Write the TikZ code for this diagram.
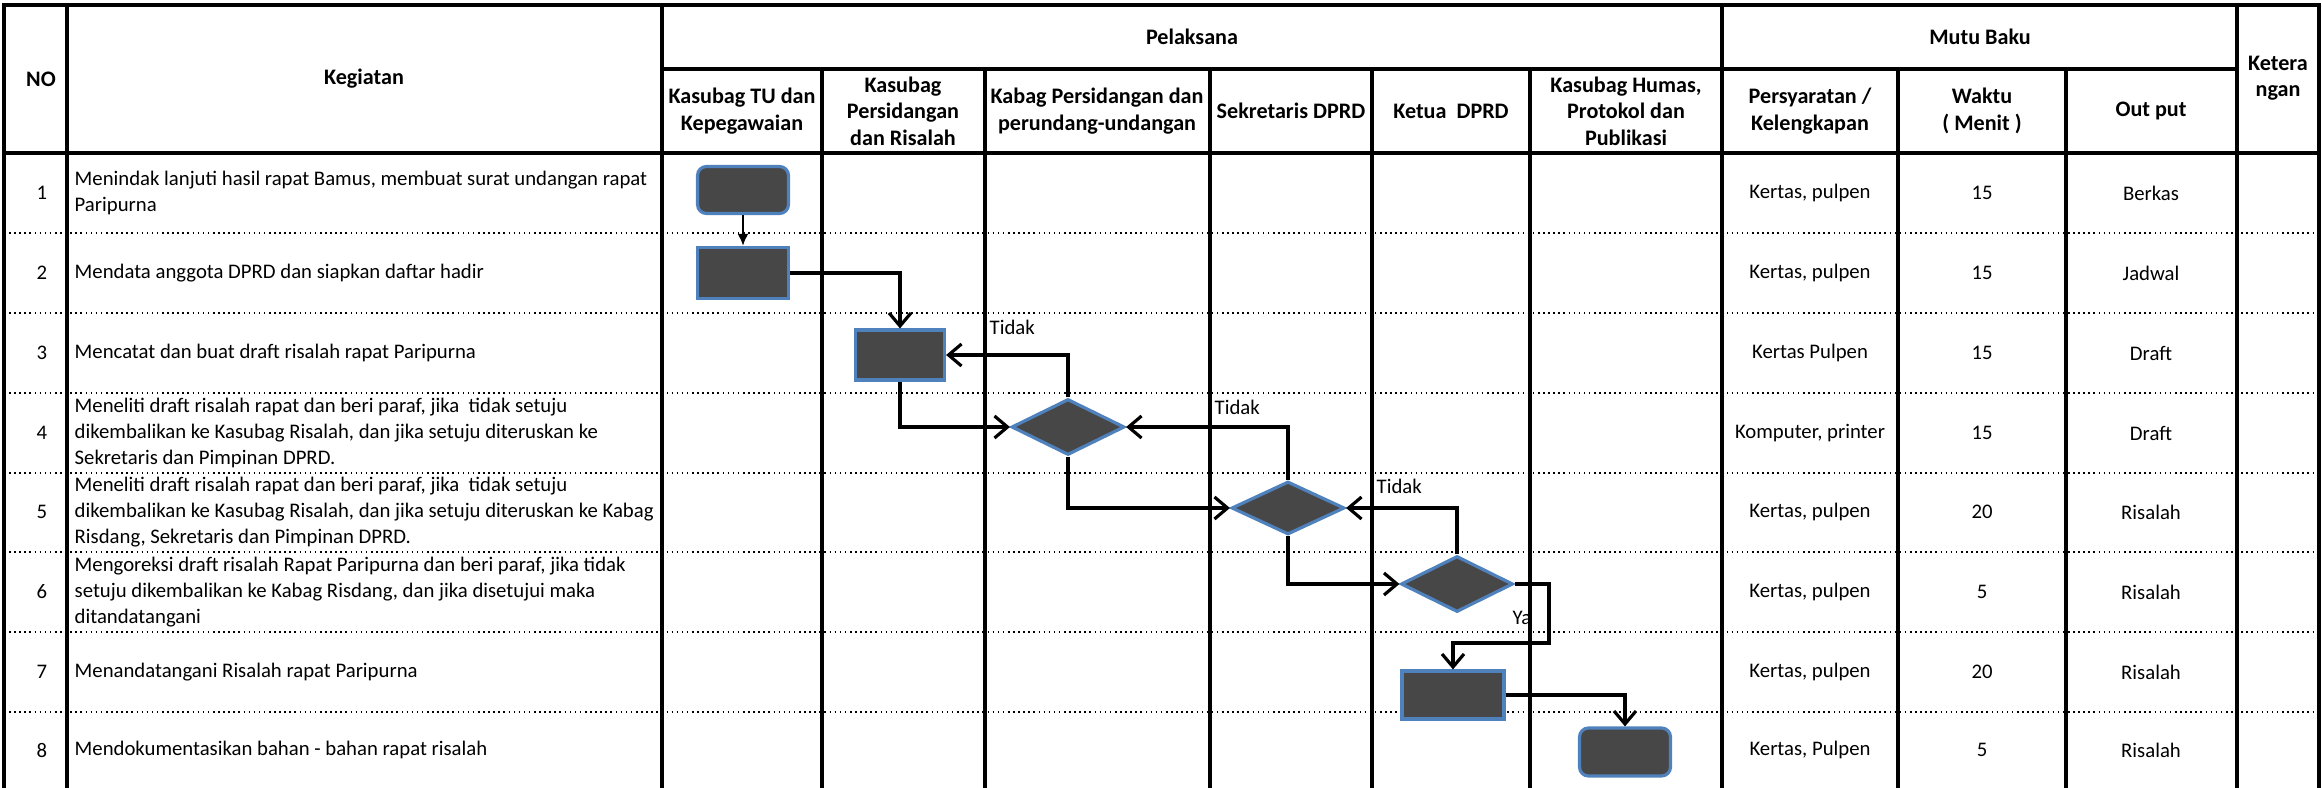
\documentclass[tikz,border=0pt]{standalone}
\usepackage{fontspec}
\setmainfont{Carlito}
\usetikzlibrary{shapes.geometric,arrows.meta}
\definecolor{stepblue}{HTML}{4F81BD}
\definecolor{stepgray}{HTML}{474747}

\begin{document}
\begin{tikzpicture} [x=0.1mm, y=-0.1mm, >={Straight Barb[length=1.3mm,width=2.2mm]},
	every node/.style={font=\fontsize{5.9}{7.4}\selectfont, inner sep=0pt},
	hdr/.style={font=\fontsize{6.3}{7.5}\selectfont\bfseries, align=center},
	rowtext/.style={anchor=west, align=left},
	tblline/.style={line width=1.3pt},
	lane/.style={line width=0.9pt},
	rowline/.style={densely dotted, line width=0.45pt},
	task/.style={draw=stepblue, fill=stepgray, line width=0.9pt, minimum width=9.1mm, minimum height=5.1mm},
	doc/.style={task, rounded corners=0.9mm, minimum height=4.7mm},
	cek/.style={diamond, draw=stepblue, fill=stepgray, line width=0.9pt, minimum width=11.3mm, minimum height=5.6mm},
	flow/.style={->, line width=0.9pt},
	lbl/.style={anchor=west}]
	\useasboundingbox (0,0) rectangle (2322,788);
	\draw [rowline] (4,233) -- (2319,233) (4,313) -- (2319,313) (4,393) -- (2319,393) (4,473) -- (2319,473);
	\draw [rowline] (4,552) -- (2319,552) (4,632) -- (2319,632) (4,712) -- (2319,712);
	\draw [tblline] (2,5) -- (2321,5) (662,69) -- (2237,69) (2,153) -- (2321,153);
	\draw [tblline] (4,5) -- (4,788) (67,5) -- (67,788) (662,5) -- (662,788);
	\draw [tblline] (1722,5) -- (1722,788) (2237,5) -- (2237,788) (2319,5) -- (2319,788);
	\draw [tblline] (1898,69) -- (1898,788) (2066,69) -- (2066,788);
	\draw [tblline] (822,69) -- (822,153) (985,69) -- (985,153) (1210,69) -- (1210,153) (1372,69) -- (1372,153) (1530,69) -- (1530,153);
	\draw [lane] (822,153) -- (822,788) (985,153) -- (985,788) (1210,153) -- (1210,788) (1372,153) -- (1372,788) (1530,153) -- (1530,788);
	\node (hno) [hdr] at (41,79) {NO};
	\node (hkeg) [hdr] at (364,79) {Kegiatan};
	\node (hpel) [hdr] at (1192,37) {Pelaksana};
	\node (hmutu) [hdr] at (1980,37) {Mutu Baku};
	\node (hket) [hdr] at (2278,78) {Ketera\\ngan};
	\node (htu) [hdr] at (742,111) {Kasubag TU dan\\Kepegawaian};
	\node (hsid) [hdr] at (903,111) {Kasubag\\Persidangan\\dan Risalah};
	\node (hkab) [hdr] at (1097,111) {Kabag Persidangan dan\\perundang-undangan};
	\node (hsek) [hdr] at (1291,111) {Sekretaris DPRD};
	\node (hktu) [hdr] at (1451,111) {Ketua~~DPRD};
	\node (hhum) [hdr] at (1626,111) {Kasubag Humas,\\Protokol dan\\Publikasi};
	\node (hsyr) [hdr] at (1810,111) {Persyaratan /\\Kelengkapan};
	\node (hwkt) [hdr] at (1982,111) {Waktu\\( Menit )};
	\node (hout) [hdr] at (2151,111) {Out put};
	\node (n1) at (42,193) {1};
	\node (n2) at (42,273) {2};
	\node (n3) at (42,353) {3};
	\node (n4) at (42,433) {4};
	\node (n5) at (42,512) {5};
	\node (n6) at (42,592) {6};
	\node (n7) at (42,672) {7};
	\node (n8) at (42,750) {8};
	\node (k1) [rowtext] at (74,193) {Menindak lanjuti hasil rapat Bamus, membuat surat undangan rapat\\Paripurna};
	\node (k2) [rowtext] at (74,273) {Mendata anggota DPRD dan siapkan daftar hadir};
	\node (k3) [rowtext] at (74,353) {Mencatat dan buat draft risalah rapat Paripurna};
	\node (k4) [rowtext] at (74,433) {Meneliti draft risalah rapat dan beri paraf, jika~~tidak setuju\\dikembalikan ke Kasubag Risalah, dan jika setuju diteruskan ke\\Sekretaris dan Pimpinan DPRD.};
	\node (k5) [rowtext] at (74,512) {Meneliti draft risalah rapat dan beri paraf, jika~~tidak setuju\\dikembalikan ke Kasubag Risalah, dan jika setuju diteruskan ke Kabag\\Risdang, Sekretaris dan Pimpinan DPRD.};
	\node (k6) [rowtext] at (74,592) {Mengoreksi draft risalah Rapat Paripurna dan beri paraf, jika tidak\\setuju dikembalikan ke Kabag Risdang, dan jika disetujui maka\\ditandatangani};
	\node (k7) [rowtext] at (74,672) {Menandatangani Risalah rapat Paripurna};
	\node (k8) [rowtext] at (74,750) {Mendokumentasikan bahan - bahan rapat risalah};
	\node (s1) at (1810,193) {Kertas, pulpen};
	\node (s2) at (1810,273) {Kertas, pulpen};
	\node (s3) at (1810,353) {Kertas Pulpen};
	\node (s4) at (1810,433) {Komputer, printer};
	\node (s5) at (1810,512) {Kertas, pulpen};
	\node (s6) at (1810,592) {Kertas, pulpen};
	\node (s7) at (1810,672) {Kertas, pulpen};
	\node (s8) at (1810,750) {Kertas, Pulpen};
	\node (w1) at (1982,193) {15};
	\node (w2) at (1982,273) {15};
	\node (w3) at (1982,353) {15};
	\node (w4) at (1982,433) {15};
	\node (w5) at (1982,512) {20};
	\node (w6) at (1982,592) {5};
	\node (w7) at (1982,672) {20};
	\node (w8) at (1982,750) {5};
	\node (o1) at (2151,193) {Berkas};
	\node (o2) at (2151,273) {Jadwal};
	\node (o3) at (2151,353) {Draft};
	\node (o4) at (2151,433) {Draft};
	\node (o5) at (2151,512) {Risalah};
	\node (o6) at (2151,592) {Risalah};
	\node (o7) at (2151,672) {Risalah};
	\node (o8) at (2151,750) {Risalah};
	\node (t1) [doc] at (743,190) {};
	\node (t2) [task] at (743,273) {};
	\node (t3) [task, minimum width=8.9mm, minimum height=5mm] at (900,355) {};
	\node (d4) [cek] at (1068,427) {};
	\node (d5) [cek, minimum height=5.3mm] at (1288,508) {};
	\node (d6) [cek, minimum width=11.2mm] at (1457,584) {};
	\node (t7) [task, minimum width=10.2mm, minimum height=4.8mm] at (1453,695) {};
	\node (t8) [doc, minimum height=4.8mm] at (1625,752) {};
	\coordinate (ya) at (1549,643);
	\draw [-{Latex[length=1.2mm,width=1.1mm]}, line width=0.7pt] (t1) -- (t2);
	\draw [flow] (t2.east) -| (t3.north);
	\draw [flow] (d4.north) |- (t3.east);
	\draw [flow] (t3.south) |- (d4.west);
	\draw [flow] (d5.north) |- (d4.east);
	\draw [flow] (d4.south) |- (d5.west);
	\draw [flow] (d6.north) |- (d5.east);
	\draw [flow] (d5.south) |- (d6.west);
	\draw [flow] (d6.east) -| (ya) -| (t7.north);
	\draw [flow] (t7.east) -| (t8.north);
	\node (no1) [lbl] at (989,327) {Tidak};
	\node (no2) [lbl] at (1214,407) {Tidak};
	\node (no3) [lbl] at (1376,486) {Tidak};
	\node (yes) at (1522,618) {Ya};
\end{tikzpicture}
\end{document}
